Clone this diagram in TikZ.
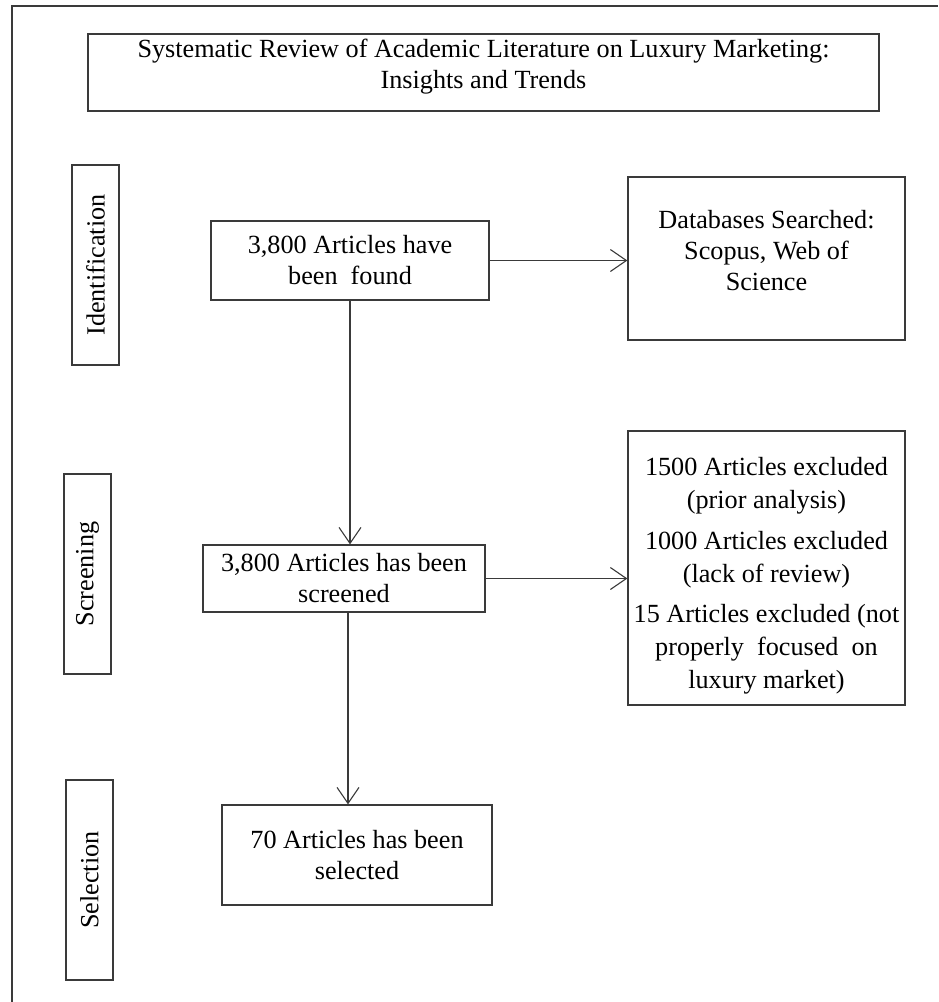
\documentclass[tikz,border=0pt]{standalone}
\usepackage{fontspec}
\setmainfont{Liberation Serif}
\usetikzlibrary{arrows.meta,calc}
\definecolor{edge}{HTML}{3A3A3A}
\begin{document}
\begin{tikzpicture}[x=1pt,y=-1pt,
  every node/.style={font=\fontsize{26.2}{31}\selectfont},
  box/.style={draw=edge,line width=1.3pt,rectangle,align=center,inner sep=2pt,text=black},
  txt/.style={align=center,inner sep=0pt,text=black},
  phase/.style={box,rotate=90,minimum width=200pt,minimum height=47pt},
  conn/.style={draw=edge,line width=1.3pt,-{Straight Barb[length=16pt,width=22pt,line width=1.1pt]}}]
\useasboundingbox (0,0) rectangle (938,1002);
% outer frame
\draw[draw=edge,line width=1.3pt] (12,1002) |- (938,6);
% title
\node[box,minimum width=791pt,minimum height=77pt] (title) at (483.5,72.5) {};
\node[txt] (titletext) at ($(title.center)+(0,-6)$)
  {Systematic Review of Academic Literature on Luxury Marketing:\\Insights and Trends};
% phases
\node[phase] (ident) at (95.5,265) {Identification};
\node[phase] (screen) at (87.5,574) {Screening};
\node[phase] (select) at (89.5,880) {Selection};
% main boxes
\node[box,minimum width=278pt,minimum height=79pt] (found) at (350,260.5)
  {3,800 Articles have\\been\ \ found};
\node[box,minimum width=277pt,minimum height=163pt] (db) at (766.5,258.5) {};
\node[txt] (dbtext) at ($(db.center)+(0,-8)$)
  {Databases Searched:\\Scopus, Web of\\Science};
\node[box,minimum width=282pt,minimum height=67pt] (screened) at (344,578.5)
  {3,800 Articles has been\\screened};
\node[box,minimum width=277pt,minimum height=274pt] (excl) at (766.5,568) {};
\node[txt,font=\fontsize{26.2}{33}\selectfont] (excltext) at ($(excl.center)+(0,8)$)
  {1500 Articles excluded\\(prior analysis)\\[7.5pt]1000 Articles excluded\\(lack of review)\\[7.5pt]15 Articles excluded (not\\properly\ \ focused\ \ on\\luxury market)};
\node[box,minimum width=270pt,minimum height=100pt] (selected) at (357,855)
  {70 Articles has been\\selected};
% connectors
\draw[conn] (found.east) -- (db.west |- found.east);
\draw[conn] (found.south) -- (found.south |- screened.north);
\draw[conn] (screened.east) -- (excl.west |- screened.east);
\draw[conn] ($(screened.south)+(4,0)$) -- ($(screened.south |- selected.north)+(4,0)$);
\end{tikzpicture}
\end{document}
